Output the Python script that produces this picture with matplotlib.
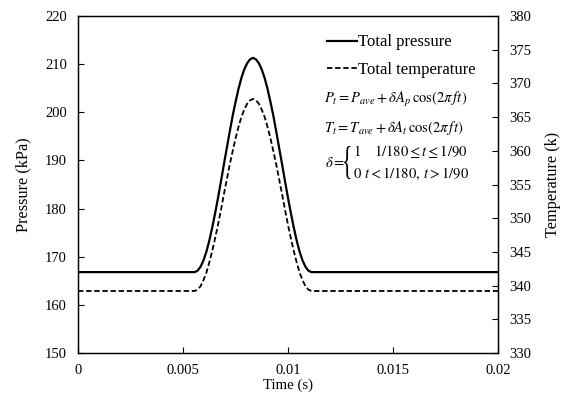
import matplotlib
matplotlib.use("Agg")
import matplotlib.pyplot as plt
from matplotlib.textpath import TextPath
from matplotlib.patches import PathPatch
from matplotlib.font_manager import FontProperties
from matplotlib.transforms import Affine2D, IdentityTransform

plt.rcParams['font.family'] = ['Liberation Serif', 'DejaVu Serif']
plt.rcParams['mathtext.fontset'] = 'stix'

# time samples (s)
time = [0, 0.005556, 0.005694, 0.005833, 0.005972, 0.006111, 0.006250,
        0.006389, 0.006528, 0.006667, 0.006806, 0.006944, 0.007083,
        0.007222, 0.007361, 0.007500, 0.007639, 0.007778, 0.007917,
        0.008056, 0.008194, 0.008333, 0.008472, 0.008611, 0.008750,
        0.008889, 0.009028, 0.009167, 0.009306, 0.009444, 0.009583,
        0.009722, 0.009861, 0.010000, 0.010139, 0.010278, 0.010417,
        0.010556, 0.010694, 0.010833, 0.010972, 0.011111, 0.02]

# total pressure (kPa)
pressure = [166.8, 166.8, 167.1, 167.9, 169.2, 171.0, 173.3, 176.0, 179.0,
            182.2, 185.6, 189.1, 192.5, 195.9, 199.2, 202.1, 204.8, 207.1,
            208.9, 210.2, 211.0, 211.3, 211.0, 210.2, 208.9, 207.1, 204.8,
            202.1, 199.2, 195.9, 192.5, 189.1, 185.6, 182.2, 179.0, 176.0,
            173.3, 171.0, 169.2, 167.9, 167.1, 166.8, 166.8]

# total temperature (K)
temperature = [339.2, 339.2, 339.4, 339.9, 340.8, 341.9, 343.4, 345.1, 347.0,
               349.0, 351.2, 353.5, 355.7, 357.9, 359.9, 361.8, 363.5, 365.0,
               366.1, 367.0, 367.5, 367.7, 367.5, 367.0, 366.1, 365.0, 363.5,
               361.8, 359.9, 357.9, 355.7, 353.5, 351.2, 349.0, 347.0, 345.1,
               343.4, 341.9, 340.8, 339.9, 339.4, 339.2, 339.2]

W, H = 564, 397
fig = plt.figure(figsize=(W / 100, H / 100), dpi=100)
ax = fig.add_axes([78 / W, 1 - 353 / H, 420 / W, 337 / H])
ax2 = ax.twinx()

l1, = ax.plot(time, pressure, color='black', lw=1.6, label='Total pressure')
l2, = ax2.plot(time, temperature, color='black', lw=1.3, ls=(0, (3, 1.5)),
               label='Total temperature')

ax.set_xlim(0, 0.02)
ax.set_ylim(150, 220)
ax2.set_ylim(330, 380)
ax.set_xticks([0, 0.005, 0.01, 0.015, 0.02])
ax.set_xticklabels(['0', '0.005', '0.01', '0.015', '0.02'])
ax.set_yticks(range(150, 221, 10))
ax2.set_yticks(range(330, 381, 5))

for a in (ax, ax2):
    a.tick_params(direction='in', labelsize=10.5, length=4, width=0.8, pad=8)
    for s in a.spines.values():
        s.set_linewidth(0.9)
ax.tick_params(axis='x', pad=8)

ax.set_xlabel('Time (s)', fontsize=10.6, labelpad=1)
ax.set_ylabel('Pressure (kPa)', fontsize=11.7, labelpad=10)
ax2.set_ylabel('Temperature (k)', fontsize=11.7, labelpad=10)

ax.legend(handles=[l1, l2], loc='upper right', bbox_to_anchor=(0.983, 0.99),
          frameon=False, fontsize=12, handlelength=1.8, handletextpad=0.05,
          labelspacing=0.7)

fs = 10.5
fig.text(324 / W, 1 - 100 / H, r'$P_t = P_{ave} + \delta A_p\,\cos(2\pi\, ft)$',
         fontsize=fs, va='center')
fig.text(324 / W, 1 - 128 / H, r'$T_t = T_{ave} + \delta A_t\,\cos(2\pi\, ft)$',
         fontsize=fs, va='center')
fig.text(325 / W, 1 - 163 / H, r'$\delta =$', fontsize=fs, va='center')

# tall narrow brace, squeezed into a box beside the two cases (pixels)
tp = TextPath((0, 0), '{', size=30, prop=FontProperties(family='Liberation Serif'))
ext = tp.get_extents()
bx0, bx1, by0, by1 = 344, 350.5, H - 179, H - 146
tr = (Affine2D().translate(-ext.x0, -ext.y0)
      .scale((bx1 - bx0) / ext.width, (by1 - by0) / ext.height)
      .translate(bx0, by0))
brace = PathPatch(tr.transform_path(tp), facecolor='black', edgecolor='none',
                  transform=IdentityTransform())
fig.add_artist(brace)

fig.text(353 / W, 1 - 152 / H, r'$1$', fontsize=fs, va='center')
fig.text(374 / W, 1 - 152 / H, r'$1/180 \leq t \leq 1/90$',
         fontsize=fs, va='center')
fig.text(353 / W, 1 - 174 / H, r'$0$', fontsize=fs, va='center')
fig.text(364 / W, 1 - 174 / H, r'$t < 1/180,\, t > 1/90$',
         fontsize=fs, va='center')

fig.savefig('out.png', dpi=100)
